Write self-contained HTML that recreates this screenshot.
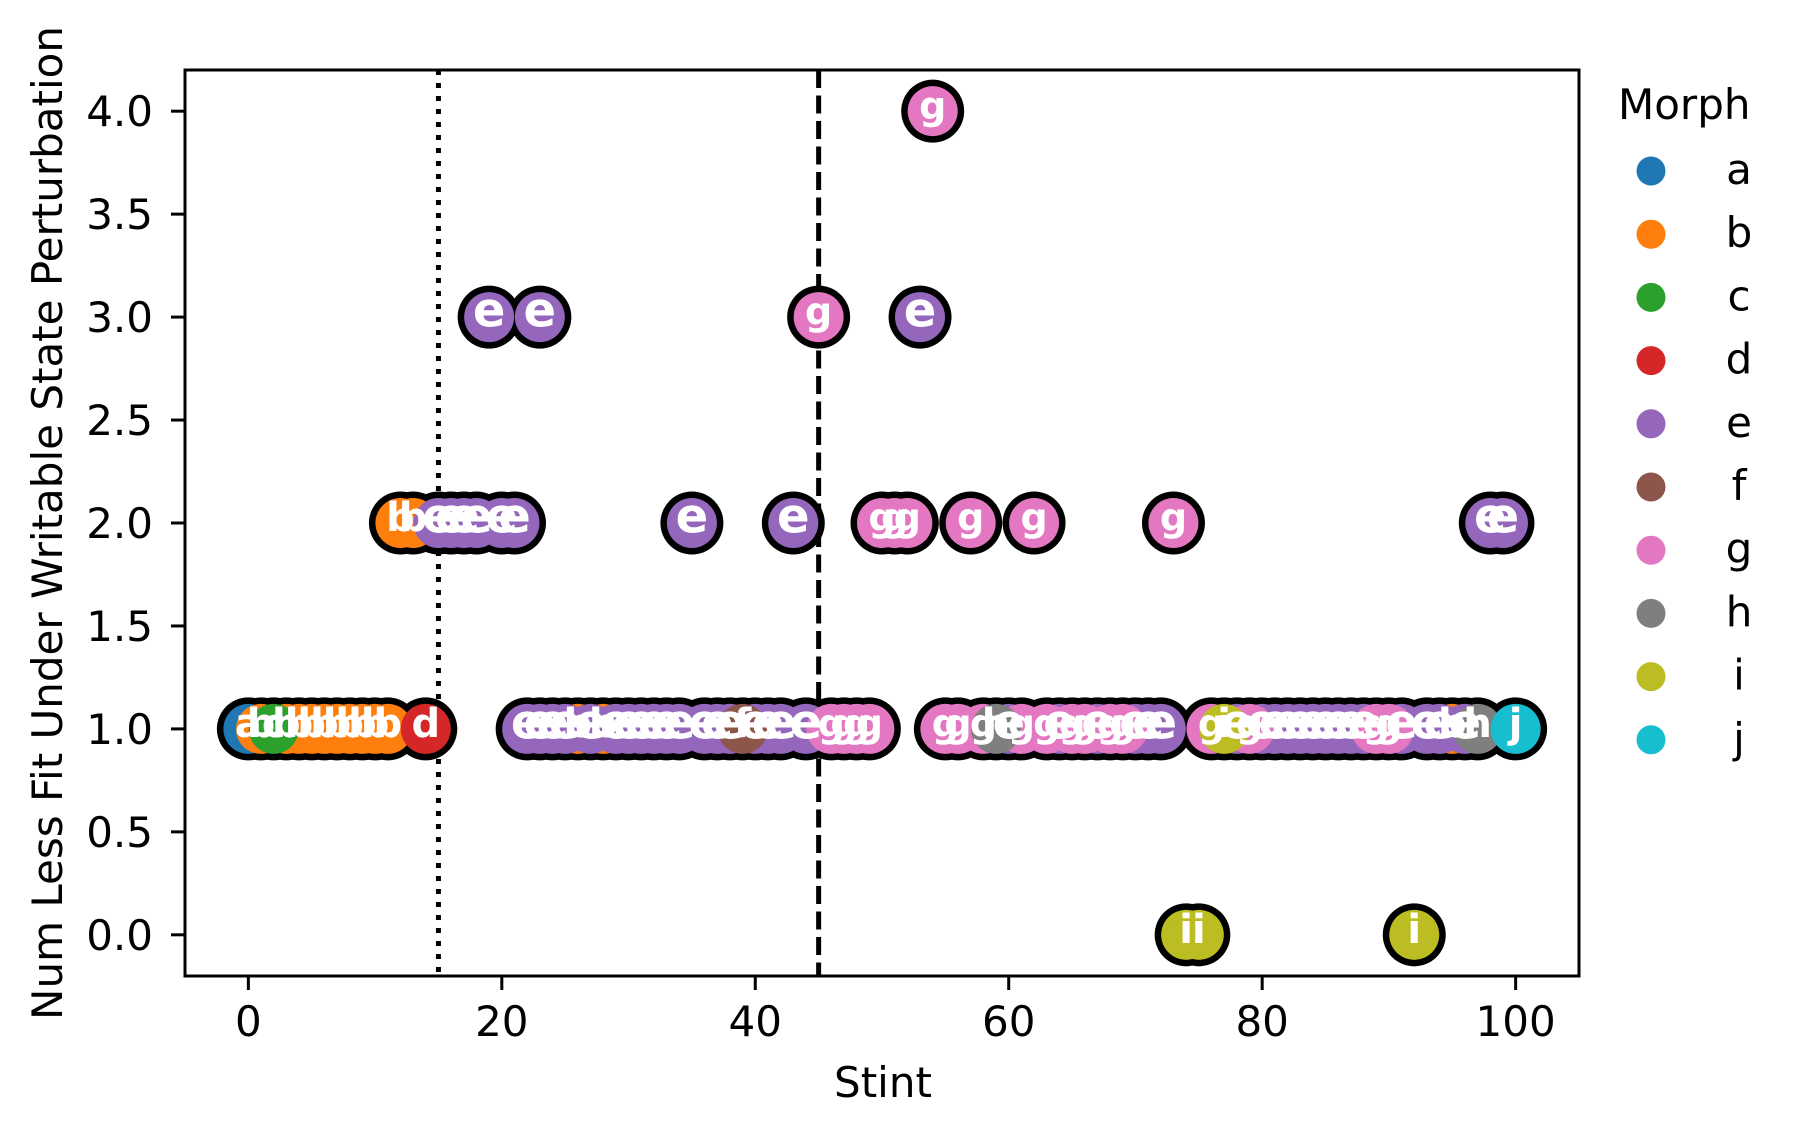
<!DOCTYPE html>
<html><head><meta charset="utf-8"><style>
body{margin:0;background:#fff}
svg{display:block}
text{font-family:"DejaVu Sans","Liberation Sans",sans-serif}
</style></head><body>
<svg id="chart" width="1799" height="1135" viewBox="0 0 1799 1135" xmlns="http://www.w3.org/2000/svg">
<rect width="1799" height="1135" fill="#fff"/>
<g id="grid"></g>
<g id="marks"></g>
<g id="labels"></g>
<rect x="185" y="70" width="1394" height="906" fill="none" stroke="#000" stroke-width="3"/>
<g id="xaxis"></g>
<g id="yaxis"></g>
<text x="883" y="1097" font-size="42" text-anchor="middle">Stint</text>
<text transform="translate(62,523) rotate(-90)" font-size="42" text-anchor="middle">Num Less Fit Under Writable State Perturbation</text>
<g id="legend"></g>
</svg>
<script>
const morphs = ['a','b','c','d','e','f','g','h','i','j'];
const colors = ['#1f77b4','#ff7f0e','#2ca02c','#d62728','#9467bd','#8c564b','#e377c2','#7f7f7f','#bcbd22','#17becf'];
const xTicks = [0,20,40,60,80,100];
const yTicks = [0,0.5,1,1.5,2,2.5,3,3.5,4];
const vLines = [15,45];
const stints = [54, 19,23,45,53,
 12,13,15,16,17,18,20,21,35,43,50,51,52,57,62,73,98,99,
 0,1,2,3,4,5,6,7,8,9,10,11,14,
 22,23,24,25,26,27,28,29,30,31,32,33,34,36,37,38,39,40,41,42,44,46,47,48,49,
 55,56,58,59,60,61,63,64,65,66,67,68,69,70,71,72,
 76,77,78,79,80,81,82,83,84,85,86,87,88,89,90,91,93,94,95,96,97,100,
 74,75,92];
const values = [4, 3,3,3,3,
 2,2,2,2,2,2,2,2,2,2,2,2,2,2,2,2,2,2,
 1,1,1,1,1,1,1,1,1,1,1,1,1,
 1,1,1,1,1,1,1,1,1,1,1,1,1,1,1,1,1,1,1,1,1,1,1,1,1,
 1,1,1,1,1,1,1,1,1,1,1,1,1,1,1,1,
 1,1,1,1,1,1,1,1,1,1,1,1,1,1,1,1,1,1,1,1,1,1,
 0,0,0];
const labels = ['g', 'e','e','g','e',
 'b','b','e','e','e','e','e','e','e','e','g','g','g','g','g','g','e','e',
 'a','b','c','b','b','b','b','b','b','b','b','b','d',
 'e','e','e','e','b','e','b','e','e','e','e','e','e','e','e','e','f','e','e','e','e','g','g','g','g',
 'g','g','g','h','e','g','g','e','g','g','e','g','g','e','e','e',
 'g','i','e','g','e','e','e','e','e','e','e','e','e','g','g','e','e','e','b','e','h','j',
 'i','i','i'];

const NS='http://www.w3.org/2000/svg';
const X0=185,X1=1579,Y0=70,Y1=976;
const xmin=-5,xmax=105,ymin=-0.2,ymax=4.2;
function sx(v){return X0+(v-xmin)/(xmax-xmin)*(X1-X0);}
function sy(v){return Y1-(v-ymin)/(ymax-ymin)*(Y1-Y0);}
function mk(tag,attrs,parent){const e=document.createElementNS(NS,tag);for(const k in attrs)e.setAttribute(k,attrs[k]);parent.appendChild(e);return e;}

const grid=document.getElementById('grid');
vLines.forEach((v,i)=>{
  const l=mk('line',{x1:sx(v),x2:sx(v),y1:Y0,y2:Y1,stroke:'#000','stroke-width':5,'stroke-dasharray':i===0?'5,8':'18,7.5'},grid);
  
  
});

const marks=document.getElementById('marks');
for(let i=0;i<stints.length;i++){
  const c=mk('circle',{cx:sx(stints[i]),cy:sy(values[i]),r:31.5,fill:'#000'},marks);
  
  
}
morphs.forEach((m,h)=>{
  for(let i=0;i<stints.length;i++){
    if(labels[i]!==m)continue;
    const c=mk('circle',{cx:sx(stints[i]),cy:sy(values[i]),r:25,fill:colors[h]},marks);
    
    
  }
});
const lab=document.getElementById('labels');
for(let i=0;i<stints.length;i++){
  const m=labels[i];
  const fs=m==='e'?48:(m==='g'?38:40);
  const t=mk('text',{x:sx(stints[i]),y:sy(values[i])+fs*0.2,'font-size':fs,'font-weight':'bold',fill:'#fff','text-anchor':'middle'},lab);
  t.textContent=m;
  
  
}

const xa=document.getElementById('xaxis');
xTicks.forEach(v=>{
  const l=mk('line',{x1:sx(v),x2:sx(v),y1:Y1,y2:Y1+14,stroke:'#000','stroke-width':3},xa);
  
  
  const t=mk('text',{x:sx(v),y:1036,'font-size':42,'text-anchor':'middle'},xa);
  t.textContent=String(v);
  
  
});
const ya=document.getElementById('yaxis');
yTicks.forEach(v=>{
  const l=mk('line',{x1:X0-14,x2:X0,y1:sy(v),y2:sy(v),stroke:'#000','stroke-width':3},ya);
  
  
  const t=mk('text',{x:153,y:sy(v)+15,'font-size':42,'text-anchor':'end'},ya);
  t.textContent=v.toFixed(1);
  
  
});

const lg=document.getElementById('legend');
const tt=mk('text',{x:1618,y:119,'font-size':42},lg);
tt.textContent='Morph';


morphs.forEach((m,i)=>{
  const y=171+i*63.2;
  const c=mk('circle',{cx:1651,cy:y,r:14.5,fill:colors[i]},lg);
  
  
  const t=mk('text',{x:1739,y:y+13,'font-size':42,'text-anchor':'middle'},lg);
  t.textContent=m;
  
  
});
</script>
</body></html>
